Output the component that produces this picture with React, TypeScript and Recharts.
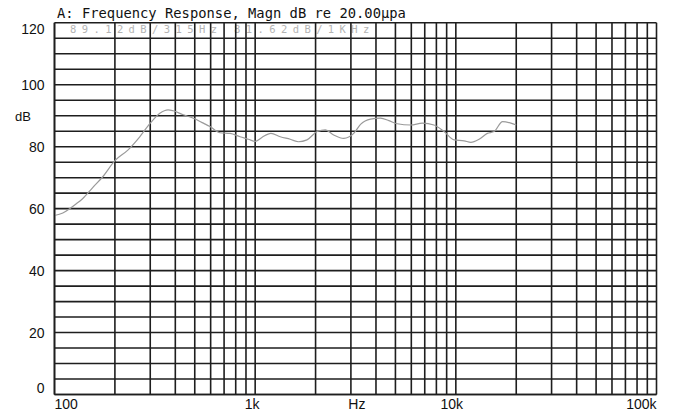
import React from "react";
import { LineChart, Line, XAxis, YAxis, CartesianGrid } from "recharts";

// frequency response readings (Hz, dB)
const freqs = [
  100, 110, 119, 128, 138, 155, 174, 200, 232, 266, 300, 335, 368, 390, 438, 492, 552, 596, 668, 750,
  841, 925, 1000, 1080, 1198, 1334, 1496, 1646, 1812, 2040, 2239, 2463, 2762, 3099, 3350, 3758, 4217,
  4640, 5105, 5957, 6812, 7780, 8736, 9808, 11000, 11885, 13060, 14350, 15500, 17100, 18800, 20000,
];
const magn = [
  57.8, 58.6, 60.0, 61.5, 63.2, 66.8, 70.3, 75.5, 78.9, 83.2, 87.6, 90.8, 91.9, 91.6, 90.3, 89.2, 87.6,
  86.5, 84.5, 84.3, 83.2, 82.4, 81.7, 83.0, 84.3, 83.2, 82.4, 81.6, 82.2, 84.9, 85.4, 83.8, 82.7, 84.3,
  87.2, 88.9, 89.2, 88.4, 87.4, 87.0, 87.6, 87.0, 84.9, 82.2, 81.9, 81.4, 82.4, 84.3, 84.9, 88.1, 87.6, 87.0,
];

const xTicks = [
  100, 200, 300, 400, 500, 600, 700, 800, 900,
  1000, 2000, 3000, 4000, 5000, 6000, 7000, 8000, 9000,
  10000, 20000, 30000, 40000, 50000, 60000, 70000, 80000, 90000, 100000,
];
const xLabels: Record<number, string> = { 100: "100", 1000: "1k", 3000: "Hz", 10000: "10k", 100000: "100k" };
const yTicks = [0, 5, 10, 15, 20, 25, 30, 35, 40, 45, 50, 55, 60, 65, 70, 75, 80, 85, 90, 95, 100, 105, 110, 115, 120];
const yLabels = [0, 20, 40, 60, 80, 100, 120];

const title = "A: Frequency Response, Magn dB re 20.00\u00b5pa";
const marker = "89.12dB/315Hz 81.62dB/1KHz";

const data = freqs.map((f, i) => ({ f, db: magn[i] }));

const labelFont = "'Liberation Sans', Arial, sans-serif";
const monoFont = "'DejaVu Sans Mono', monospace";

function XTick(props: any) {
  const { x, y, payload } = props;
  const label = xLabels[payload.value];
  if (!label) return null;
  let anchor = "middle";
  let dx = 0;
  if (payload.value === 100) anchor = "start";
  if (payload.value === 100000) anchor = "end";
  if (payload.value === 1000) dx = -3;
  if (payload.value === 10000) dx = -4;
  if (payload.value === 3000) dx = 6;
  return (
    <text x={x + dx} y={y + 12.5} textAnchor={anchor} fontSize={14} fontFamily={labelFont} fill="#111">
      {label}
    </text>
  );
}

function YTick(props: any) {
  const { x, y, payload } = props;
  if (!yLabels.includes(payload.value)) return null;
  let dy = 5;
  if (payload.value === 120) dy = 11;
  if (payload.value === 0) dy = -2;
  return (
    <text x={x - 8} y={y + dy} textAnchor="end" fontSize={14} fontFamily={labelFont} fill="#111">
      {payload.value}
    </text>
  );
}

export default function App() {
  return (
    <div style={{ position: "absolute", left: 0, top: 0, width: 673, height: 411, background: "#fff" }}>
      <svg width={673} height={411} style={{ position: "absolute", left: 0, top: 0 }}>
        <text x={57} y={18.3} fontFamily={monoFont} fontSize={13.8} fill="#111">{title}</text>
        <text x={70} y={33} fontFamily={monoFont} fontSize={10.5} letterSpacing={5.4} fill="#b4b4b4">{marker}</text>
        <text x={15} y={120.5} fontFamily={labelFont} fontSize={13} fill="#111">dB</text>
      </svg>
      <div style={{ position: "absolute", left: 0, top: 0 }}>
        <LineChart width={673} height={411} data={data} margin={{ top: 22.8, right: 16.5, bottom: 0, left: 0 }}>
          <CartesianGrid stroke="#1e1e1e" strokeWidth={1.6} />
          <XAxis
            dataKey="f"
            type="number"
            scale="log"
            domain={[100, 100000]}
            allowDataOverflow
            ticks={xTicks}
            interval={0}
            height={16.5}
            tickLine={false}
            tickSize={0}
            tick={<XTick />}
            axisLine={{ stroke: "#1e1e1e", strokeWidth: 1.6 }}
          />
          <YAxis
            type="number"
            domain={[0, 120]}
            ticks={yTicks}
            interval={0}
            width={54.5}
            tickLine={false}
            tickSize={0}
            tick={<YTick />}
            axisLine={{ stroke: "#1e1e1e", strokeWidth: 1.6 }}
          />
          <Line
            type="monotone"
            dataKey="db"
            stroke="#9a9a9a"
            strokeWidth={1.2}
            dot={false}
            isAnimationActive={false}
          />
        </LineChart>
      </div>
    </div>
  );
}
